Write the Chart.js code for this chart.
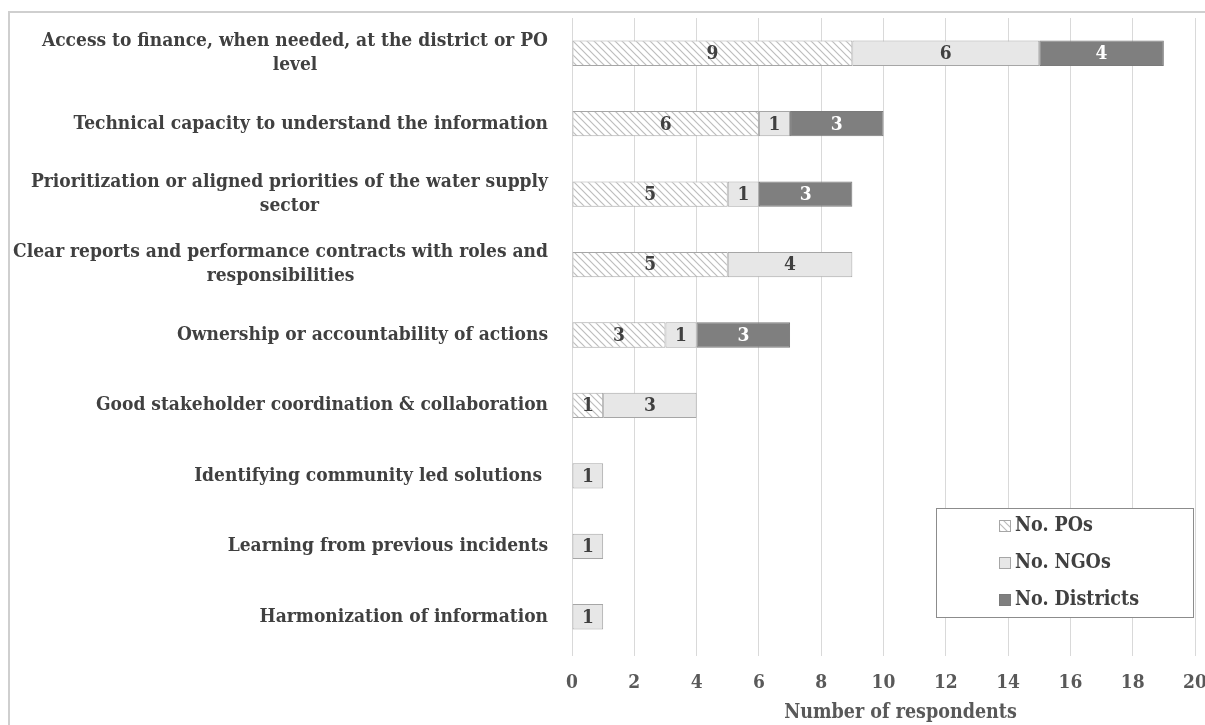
<!DOCTYPE html>
<html>
<head>
<meta charset="utf-8">
<script src="https://cdn.jsdelivr.net/npm/chart.js@4.4.1/dist/chart.umd.min.js"></script>
<style>
  html, body { margin: 0; padding: 0; background: #ffffff; }
  #wrap { width: 1205px; height: 725px; position: relative; }
</style>
</head>
<body>
<div id="wrap"><canvas id="chart" width="1205" height="725"></canvas></div>
<script>
// Success factors (top to bottom) and respondent counts per group
const categories = [
  ['Access to finance, when needed, at the district or PO', 'level'],
  ['Technical capacity to understand the information'],
  ['Prioritization or aligned priorities of the water supply', 'sector'],
  ['Clear reports and performance contracts with roles and', 'responsibilities'],
  ['Ownership or accountability of actions'],
  ['Good stakeholder coordination & collaboration'],
  ['Identifying community led solutions '],
  ['Learning from previous incidents'],
  ['Harmonization of information']
];
const posCounts      = [9, 6, 5, 5, 3, 1, null, null, null];
const ngoCounts      = [6, 1, 1, 4, 1, 3, 1, 1, 1];
const districtCounts = [4, 3, 3, null, 3, null, null, null, null];
const seriesNames = ['No. POs', 'No. NGOs', 'No. Districts'];
const xTickValues = [0, 2, 4, 6, 8, 10, 12, 14, 16, 18, 20];
const xAxisTitle = 'Number of respondents';

// Prefer the condensed serif cut; fall back to the regular width at a smaller size
function hasFont(name) {
  const g = document.createElement('canvas').getContext('2d');
  const probe = 'Access to finance, when needed 0123456789';
  g.font = 'bold 40px monospace';
  const a = g.measureText(probe).width;
  g.font = 'bold 40px "' + name + '", monospace';
  const b = g.measureText(probe).width;
  return Math.abs(a - b) > 0.5;
}
const CONDENSED = hasFont('DejaVu Serif Condensed');
const SERIF = CONDENSED ? "'DejaVu Serif Condensed', 'DejaVu Serif', serif" : "'DejaVu Serif', serif";
const fs = px => (CONDENSED ? px : px * 0.88);

const LABEL_COLOR = '#404040';
const AXIS_COLOR = '#595959';
const GRID_COLOR = '#d9d9d9';

// Light diagonal hatch used for the PO series
function makeHatch() {
  const size = 7;
  const c = document.createElement('canvas');
  c.width = size; c.height = size;
  const g = c.getContext('2d');
  g.fillStyle = '#ffffff';
  g.fillRect(0, 0, size, size);
  g.strokeStyle = '#bdbdbd';
  g.lineWidth = 1.2;
  g.beginPath();
  g.moveTo(-1, -1); g.lineTo(size + 1, size + 1);
  g.moveTo(-1, size - 1); g.lineTo(1, size + 1);
  g.moveTo(size - 1, -1); g.lineTo(size + 1, 1);
  g.stroke();
  return g.createPattern(c, 'repeat');
}
const hatch = makeHatch();

const seriesStyles = [
  { fill: hatch,     border: '#a6a6a6', text: LABEL_COLOR },
  { fill: '#e7e7e7', border: '#a6a6a6', text: LABEL_COLOR },
  { fill: '#7f7f7f', border: '#7a7a7a', text: '#ffffff' }
];

// Outer frame of the figure (top and left edges)
const framePlugin = {
  id: 'frame',
  beforeDraw(chart) {
    const ctx = chart.ctx;
    ctx.save();
    ctx.strokeStyle = '#cfcfcf';
    ctx.lineWidth = 2;
    ctx.beginPath();
    ctx.moveTo(9, 730);
    ctx.lineTo(9, 12);
    ctx.lineTo(1210, 12);
    ctx.stroke();
    ctx.restore();
  }
};

// Category labels: right-aligned blocks, each line centred within its block
const categoryLabelPlugin = {
  id: 'categoryLabels',
  afterDraw(chart) {
    const ctx = chart.ctx;
    const yScale = chart.scales.y;
    const rightEdge = chart.chartArea.left - 24;
    const lineHeight = 24;
    ctx.save();
    ctx.font = 'bold ' + fs(19) + 'px ' + SERIF;
    ctx.fillStyle = LABEL_COLOR;
    ctx.textAlign = 'center';
    ctx.textBaseline = 'middle';
    categories.forEach((lines, i) => {
      const yc = yScale.getPixelForValue(i);
      const blockWidth = Math.max(...lines.map(l => ctx.measureText(l).width));
      const cx = rightEdge - blockWidth / 2;
      lines.forEach((line, j) => {
        const y = yc + (j - (lines.length - 1) / 2) * lineHeight;
        ctx.fillText(line, cx, y);
      });
    });
    ctx.restore();
  }
};

// Axis title under the tick labels
const axisTitlePlugin = {
  id: 'axisTitle',
  afterDraw(chart) {
    const ctx = chart.ctx;
    const area = chart.chartArea;
    ctx.save();
    ctx.font = 'bold ' + fs(19.5) + 'px ' + SERIF;
    ctx.fillStyle = AXIS_COLOR;
    ctx.textAlign = 'center';
    ctx.textBaseline = 'middle';
    ctx.fillText(xAxisTitle, (area.left + area.right) / 2 + 17, 713);
    ctx.restore();
  }
};

// Value labels centred inside each bar segment
const valueLabelPlugin = {
  id: 'valueLabels',
  afterDatasetsDraw(chart) {
    const ctx = chart.ctx;
    ctx.save();
    ctx.font = 'bold ' + fs(19) + 'px ' + SERIF;
    ctx.textAlign = 'center';
    ctx.textBaseline = 'middle';
    chart.data.datasets.forEach((ds, di) => {
      const meta = chart.getDatasetMeta(di);
      ctx.fillStyle = seriesStyles[di].text;
      meta.data.forEach((bar, i) => {
        const v = ds.data[i];
        if (v === null || v === undefined || v === 0) return;
        const { x, y, base } = bar.getProps(['x', 'y', 'base'], true);
        ctx.fillText(String(v), (x + base) / 2, y + 1);
      });
    });
    ctx.restore();
  }
};

// Boxed legend in the lower right of the plot
const legendBoxPlugin = {
  id: 'legendBox',
  afterDraw(chart) {
    const ctx = chart.ctx;
    const box = { x: 936.5, y: 508.5, w: 257, h: 109 };
    ctx.save();
    ctx.fillStyle = '#ffffff';
    ctx.fillRect(box.x, box.y, box.w, box.h);
    ctx.strokeStyle = '#8c8c8c';
    ctx.lineWidth = 1;
    ctx.strokeRect(box.x, box.y, box.w, box.h);
    ctx.font = 'bold ' + fs(19.5) + 'px ' + SERIF;
    ctx.textAlign = 'left';
    ctx.textBaseline = 'middle';
    chart.data.datasets.forEach((ds, di) => {
      const cy = 526 + di * 37;
      const st = seriesStyles[di];
      ctx.fillStyle = st.fill;
      ctx.fillRect(999.5, cy - 5.5, 11, 11);
      ctx.strokeStyle = st.border;
      ctx.strokeRect(999.5, cy - 5.5, 11, 11);
      ctx.fillStyle = LABEL_COLOR;
      ctx.fillText(ds.label, 1015, cy);
    });
    ctx.restore();
  }
};

const datasetValues = [posCounts, ngoCounts, districtCounts];

new Chart(document.getElementById('chart'), {
  type: 'bar',
  data: {
    labels: categories.map(c => c.join(' ')),
    datasets: datasetValues.map((vals, di) => ({
      label: seriesNames[di],
      data: vals,
      backgroundColor: seriesStyles[di].fill,
      borderColor: seriesStyles[di].border,
      borderWidth: 1,
      borderSkipped: false,
      categoryPercentage: 1.0,
      barPercentage: 0.36
    }))
  },
  options: {
    indexAxis: 'y',
    responsive: false,
    animation: false,
    devicePixelRatio: 1,
    layout: { padding: { top: 18, right: 10, left: 0, bottom: 0 } },
    plugins: {
      legend: { display: false },
      tooltip: { enabled: false }
    },
    scales: {
      x: {
        type: 'linear',
        position: 'bottom',
        stacked: true,
        min: 0,
        max: 20,
        afterBuildTicks(scale) {
          scale.ticks = xTickValues.map(v => ({ value: v }));
        },
        afterFit(scale) {
          scale.height = 73;
          scale.paddingLeft = 0;
          scale.paddingRight = 0;
        },
        grid: { color: GRID_COLOR, lineWidth: 1, drawTicks: true, tickLength: 4, tickColor: GRID_COLOR },
        border: { display: false },
        ticks: {
          color: AXIS_COLOR,
          font: { family: SERIF, size: fs(19), weight: 'bold' },
          padding: 16,
          maxRotation: 0
        },
        title: { display: false }
      },
      y: {
        type: 'category',
        stacked: true,
        afterFit(scale) { scale.width = 572; },
        grid: { display: false },
        border: { display: false },
        ticks: { display: false }
      }
    }
  },
  plugins: [framePlugin, categoryLabelPlugin, axisTitlePlugin, valueLabelPlugin, legendBoxPlugin]
});
</script>
</body>
</html>
